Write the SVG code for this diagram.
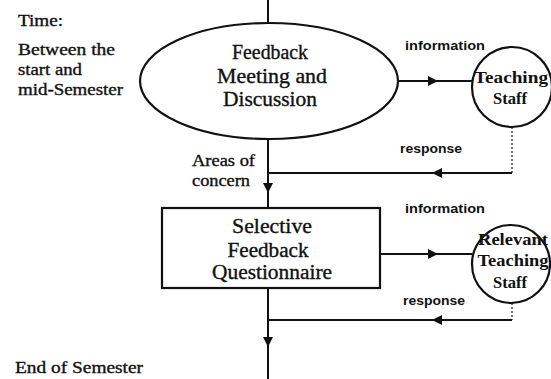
<svg xmlns="http://www.w3.org/2000/svg" width="551" height="379" viewBox="0 0 551 379">
<style>
.t{font-family:"Liberation Serif","Times New Roman",serif;fill:#111;stroke:#111;stroke-width:0.35}
.side{font-size:16px}
.node{font-size:20px;text-anchor:middle}
.circ{font-size:16px;text-anchor:middle;font-weight:bold;stroke-width:0}
.lab{font-size:13px;font-family:"Liberation Sans",Arial,sans-serif;font-weight:bold;stroke-width:0}
.shape{fill:#fff;stroke:#111;stroke-width:2.2}
.ln{stroke:#111;stroke-width:2;fill:none}
.dl{stroke:#111;stroke-width:1.2;fill:none;stroke-dasharray:2 2}
.ah{fill:#111}
</style>
<rect width="551" height="379" fill="#fff"/>
<g id="connectors">
  <line class="ln" x1="268" y1="0" x2="268" y2="24"/>
  <line class="ln" x1="268" y1="139" x2="268" y2="208"/>
  <polygon class="ah" points="263,183 273,183 268,193"/>
  <line class="ln" x1="268" y1="288" x2="268" y2="379"/>
  <polygon class="ah" points="263,337 273,337 268,347"/>
  <line class="ln" x1="398" y1="81" x2="472" y2="81"/>
  <polygon class="ah" points="428,76 438,81 428,86"/>
  <path class="dl" d="M512,127 V173"/>
  <line class="ln" x1="512" y1="173" x2="268" y2="173"/>
  <polygon class="ah" points="442,168 432,173 442,178"/>
  <line class="ln" x1="380" y1="254" x2="472" y2="254"/>
  <polygon class="ah" points="428,249 438,254 428,259"/>
  <path class="dl" d="M512,303 V320"/>
  <line class="ln" x1="512" y1="320" x2="268" y2="320"/>
  <polygon class="ah" points="442,315 432,320 442,325"/>
</g>
<g id="feedback-meeting">
  <ellipse class="shape" cx="269" cy="81" rx="129" ry="58"/>
  <text class="t node" x="270" y="59" textLength="76" lengthAdjust="spacingAndGlyphs">Feedback</text>
  <text class="t node" x="272" y="83" textLength="110" lengthAdjust="spacingAndGlyphs">Meeting and</text>
  <text class="t node" x="270" y="106" textLength="94" lengthAdjust="spacingAndGlyphs">Discussion</text>
</g>
<g id="teaching-staff">
  <circle class="shape" cx="512" cy="87" r="40"/>
  <text class="t circ" x="511" y="83" textLength="74" lengthAdjust="spacingAndGlyphs">Teaching</text>
  <text class="t circ" x="510" y="104" textLength="34" lengthAdjust="spacingAndGlyphs">Staff</text>
</g>
<g id="questionnaire">
  <rect class="shape" x="162" y="208" width="218" height="80"/>
  <text class="t node" x="272" y="233" textLength="80" lengthAdjust="spacingAndGlyphs">Selective</text>
  <text class="t node" x="268" y="257" textLength="81" lengthAdjust="spacingAndGlyphs">Feedback</text>
  <text class="t node" x="272" y="279" textLength="120" lengthAdjust="spacingAndGlyphs">Questionnaire</text>
</g>
<g id="relevant-staff">
  <circle class="shape" cx="511" cy="264" r="39"/>
  <text class="t circ" x="513" y="245" textLength="70" lengthAdjust="spacingAndGlyphs">Relevant</text>
  <text class="t circ" x="513" y="266" textLength="71" lengthAdjust="spacingAndGlyphs">Teaching</text>
  <text class="t circ" x="510" y="288" textLength="34" lengthAdjust="spacingAndGlyphs">Staff</text>
</g>
<g id="labels">
  <text class="t side" x="18" y="26" textLength="45" lengthAdjust="spacingAndGlyphs">Time:</text>
  <text class="t side" x="18" y="55" textLength="97" lengthAdjust="spacingAndGlyphs">Between the</text>
  <text class="t side" x="18" y="75" textLength="64" lengthAdjust="spacingAndGlyphs">start and</text>
  <text class="t side" x="18" y="95" textLength="105" lengthAdjust="spacingAndGlyphs">mid-Semester</text>
  <text class="t side" x="15" y="373" textLength="128" lengthAdjust="spacingAndGlyphs">End of Semester</text>
  <text class="t side" x="192" y="166" font-size="15" textLength="63" lengthAdjust="spacingAndGlyphs">Areas of</text>
  <text class="t side" x="192" y="186" font-size="15" textLength="58" lengthAdjust="spacingAndGlyphs">concern</text>
  <text class="t lab" x="405" y="50" textLength="80" lengthAdjust="spacingAndGlyphs">information</text>
  <text class="t lab" x="400" y="153" textLength="62" lengthAdjust="spacingAndGlyphs">response</text>
  <text class="t lab" x="405" y="213" textLength="80" lengthAdjust="spacingAndGlyphs">information</text>
  <text class="t lab" x="403" y="305" textLength="62" lengthAdjust="spacingAndGlyphs">response</text>
</g>
</svg>
